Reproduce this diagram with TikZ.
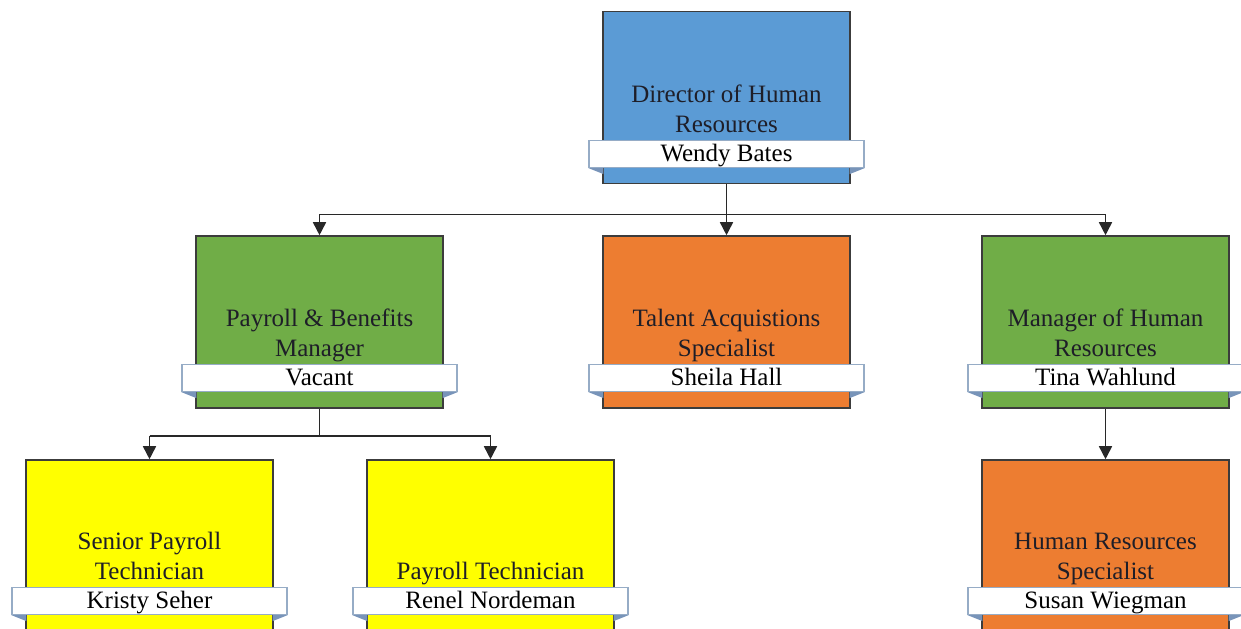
\documentclass[tikz,border=0pt]{standalone}
\usepackage{fontspec}
\setmainfont{Liberation Serif}
\usetikzlibrary{arrows.meta, positioning, calc}
\definecolor{HRBlue}{RGB}{91, 155, 213}
\definecolor{HRGreen}{RGB}{112, 173, 71}
\definecolor{HROrange}{RGB}{237, 125, 49}
\definecolor{HRYellow}{RGB}{255, 255, 0}
\definecolor{RoleEdge}{RGB}{60, 60, 60}
\definecolor{BandEdge}{RGB}{150, 172, 198}
\definecolor{BandFold}{RGB}{120, 148, 185}
\definecolor{TitleInk}{RGB}{30, 30, 40}
\definecolor{LinkGray}{RGB}{40, 40, 40}
\newcommand{\bandfolds}[1]{%
  \fill[BandFold] (#1.south west) -- ++(15,0) -- ++(0,6) -- cycle;
  \fill[BandFold] (#1.south east) -- ++(-15,0) -- ++(0,6) -- cycle;}

\begin{document}
\begin{tikzpicture}[x=0.5pt, y=-0.5pt,
    rolebox/.style={draw=RoleEdge, line width=0.8pt, minimum width=123.5pt, minimum height=86pt, inner sep=0pt},
    nameband/.style={draw=BandEdge, fill=white, line width=0.6pt, minimum width=137.5pt, minimum height=13.5pt, inner sep=0pt, text height=9.5pt, text depth=1.7pt, font=\fontsize{12.5}{15}\selectfont},
    roletitle/.style={align=center, anchor=south, inner xsep=1pt, inner ysep=3.6pt, text depth=0pt, text=TitleInk, font=\fontsize{12.5}{15}\selectfont},
    link/.style={draw=LinkGray, line width=0.8pt},
    arrowlink/.style={link, -{Triangle[length=6.5pt, width=6.5pt]}}]
    \useasboundingbox (0,0) rectangle (1241,628);
    \clip (0,0) rectangle (1241,628);
    % top
    \node[rolebox, fill=HRBlue] (dir) at (726.5,97.5) {};
    \node[nameband] (dirname) at (726.5,154) {Wendy Bates};
    \bandfolds{dirname}
    \node[roletitle] at (dirname.north) {Director of Human\\Resources};
    % second row
    \node[rolebox, fill=HRGreen] (pbm) at (319.5,322) {};
    \node[nameband] (pbmname) at (319.5,378) {Vacant};
    \bandfolds{pbmname}
    \node[roletitle] at (pbmname.north) {Payroll \& Benefits\\Manager};
    \node[rolebox, fill=HROrange] (tas) at (726.5,322) {};
    \node[nameband] (tasname) at (726.5,378) {Sheila Hall};
    \bandfolds{tasname}
    \node[roletitle] at (tasname.north) {Talent Acquistions\\Specialist};
    \node[rolebox, fill=HRGreen] (mhr) at (1105.5,322) {};
    \node[nameband] (mhrname) at (1105.5,378) {Tina Wahlund};
    \bandfolds{mhrname}
    \node[roletitle] at (mhrname.north) {Manager of Human\\Resources};
    % third row
    \node[rolebox, fill=HRYellow] (spt) at (149.5,546) {};
    \node[nameband] (sptname) at (149.5,601) {Kristy Seher};
    \bandfolds{sptname}
    \node[roletitle] at (sptname.north) {Senior Payroll\\Technician};
    \node[rolebox, fill=HRYellow] (ptech) at (490.5,546) {};
    \node[nameband] (ptechname) at (490.5,601) {Renel Nordeman};
    \bandfolds{ptechname}
    \node[roletitle] at (ptechname.north) {Payroll Technician};
    \node[rolebox, fill=HROrange] (hrs) at (1105.5,546) {};
    \node[nameband] (hrsname) at (1105.5,601) {Susan Wiegman};
    \bandfolds{hrsname}
    \node[roletitle] at (hrsname.north) {Human Resources\\Specialist};
    % connectors
    \coordinate (dirjoin) at ($(dir.south)+(0,30)$);
    \coordinate (pbmjoin) at ($(pbm.south)+(0,27)$);
    \draw[link] (dir.south) -- (dirjoin);
    \draw[link] (pbm.north |- dirjoin) -- (mhr.north |- dirjoin);
    \draw[arrowlink] (pbm.north |- dirjoin) -- (pbm.north);
    \draw[arrowlink] (dirjoin) -- (tas.north);
    \draw[arrowlink] (mhr.north |- dirjoin) -- (mhr.north);
    \draw[link] (pbm.south) -- (pbmjoin);
    \draw[link] (spt.north |- pbmjoin) -- (ptech.north |- pbmjoin);
    \draw[arrowlink] (spt.north |- pbmjoin) -- (spt.north);
    \draw[arrowlink] (ptech.north |- pbmjoin) -- (ptech.north);
    \draw[arrowlink] (mhr.south) -- (hrs.north);
\end{tikzpicture}
\end{document}
